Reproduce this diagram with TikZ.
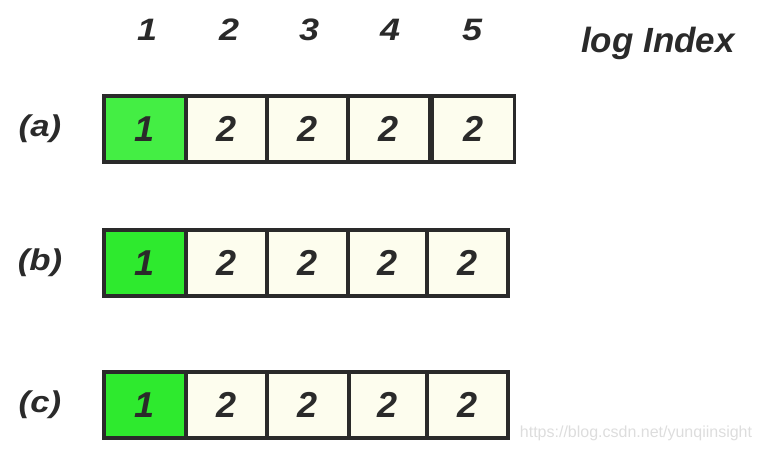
\documentclass[tikz,border=0pt]{standalone}
\usepackage{fontspec}
\setmainfont{Liberation Sans}
\newfontfamily\widesans[FakeStretch=1.16]{Liberation Sans}
\definecolor{txt}{HTML}{2A2A2A}
\definecolor{cream}{HTML}{FDFDEE}
\definecolor{greenA}{HTML}{44EE44}
\definecolor{greenB}{HTML}{2EEA2E}
\definecolor{wm}{HTML}{DDDDDD}
\tikzset{
  cellbox/.style={draw=txt, line width=3.4pt, fill=cream, minimum height=66pt, inner sep=0pt, outer sep=0pt, text=txt, font=\fontsize{36}{36}\selectfont\bfseries\itshape},
  greencell/.style={cellbox, fill=#1},
  hdr/.style={text=txt, font=\widesans\fontsize{31}{31}\selectfont\bfseries\itshape, inner sep=0pt},
  rowlbl/.style={text=txt, font=\widesans\fontsize{30}{30}\selectfont\bfseries\itshape, inner sep=0pt},
}
\begin{document}
\begin{tikzpicture}[x=1pt,y=-1pt]
\useasboundingbox (0,0) rectangle (762,451);
% header
\node[hdr, anchor=base] (h1) at (147,40) {1};
\node[hdr, anchor=base] (h2) at (229,40) {2};
\node[hdr, anchor=base] (h3) at (309,40) {3};
\node[hdr, anchor=base] (h4) at (390,40) {4};
\node[hdr, anchor=base] (h5) at (472,40) {5};
\node[text=txt, font=\fontsize{35}{35}\selectfont\bfseries\itshape, inner sep=0pt, anchor=base] (hl) at (658,52) {log Index};
% row labels
\node[rowlbl] (la) at (40,129) {(a)};
\node[rowlbl] (lb) at (40,263) {(b)};
\node[rowlbl] (lc) at (40,405) {(c)};
% row a
\node[greencell=greenA, minimum width=82pt] (a1) at (145,129) {1};
\node[cellbox, minimum width=81pt] (a2) at (226.5,129) {2};
\node[cellbox, minimum width=81pt] (a3) at (307.5,129) {2};
\node[cellbox, minimum width=82pt] (a4) at (389,129) {2};
\node[cellbox, minimum width=82pt] (a5) at (473.5,129) {2};
% row b
\node[greencell=greenB, minimum width=82pt] (b1) at (145,263) {1};
\node[cellbox, minimum width=81pt] (b2) at (226.5,263) {2};
\node[cellbox, minimum width=81pt] (b3) at (307.5,263) {2};
\node[cellbox, minimum width=79pt] (b4) at (387.5,263) {2};
\node[cellbox, minimum width=81pt] (b5) at (467.5,263) {2};
% row c
\node[greencell=greenB, minimum width=82pt] (c1) at (145,405) {1};
\node[cellbox, minimum width=81pt] (c2) at (226.5,405) {2};
\node[cellbox, minimum width=82pt] (c3) at (308,405) {2};
\node[cellbox, minimum width=78pt] (c4) at (388,405) {2};
\node[cellbox, minimum width=81pt] (c5) at (467.5,405) {2};
% watermark
\node[text=wm, font=\fontsize{16}{16}\selectfont, inner sep=0pt] (wmk) at (636,433) {https://blog.csdn.net/yunqiinsight};
\end{tikzpicture}
\end{document}
